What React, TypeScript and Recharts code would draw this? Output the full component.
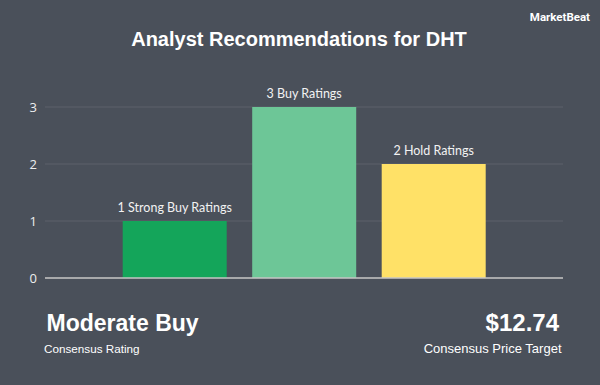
import React from "react";
import {
  BarChart,
  Bar,
  XAxis,
  YAxis,
  CartesianGrid,
  ReferenceLine,
  LabelList,
  Cell,
} from "recharts";

const categories = ["Strong Buy", "Buy", "Hold"];
const ratingCounts = [1, 3, 2];
const barColors = ["#14a55a", "#6dc697", "#ffe167"];
const yTicks = [0, 1, 2, 3];

const title = "Analyst Recommendations for DHT";
const consensusRating = "Moderate Buy";
const priceTarget = "$12.74";

const BG = "#4a505a";

const data = categories.map((name, i) => ({
  name,
  count: ratingCounts[i],
  label: `${ratingCounts[i]} ${name} Ratings`,
}));

// single-line label above each bar (default LabelList wraps to bar width)
const BarTopLabel = (props: any) => {
  const { x, y, width, value } = props;
  return (
    <text
      x={Number(x) + Number(width) / 2}
      y={Number(y) - 9}
      textAnchor="middle"
      fill="#f2f2f2"
      fontSize={12.5}
      fontFamily="Lato"
    >
      {value}
    </text>
  );
};

export default function App() {
  return (
    <div
      style={{
        position: "absolute",
        left: 0,
        top: 0,
        width: 600,
        height: 385,
        background: BG,
        overflow: "hidden",
      }}
    >
      <BarChart
        width={600}
        height={300}
        data={data}
        margin={{ top: 107, right: 37, left: 0, bottom: 22 }}
        barCategoryGap="10%"
      >
        <CartesianGrid vertical={false} stroke="#5c616b" strokeWidth={1} />
        <XAxis
          dataKey="name"
          hide
          padding={{ left: 64.75, right: 64.75 }}
        />
        <YAxis
          width={45}
          domain={[0, 3]}
          ticks={yTicks}
          axisLine={false}
          tickLine={false}
          tick={{ fill: "#eeeeee", fontSize: 13, fontFamily: "Open Sans" }}
        />
        <ReferenceLine y={0} stroke="#c4c4c4" strokeWidth={1.5} />
        <Bar dataKey="count" isAnimationActive={false}>
          {data.map((d, i) => (
            <Cell key={d.name} fill={barColors[i]} />
          ))}
          <LabelList dataKey="label" content={BarTopLabel} />
        </Bar>
      </BarChart>

      <svg
        width={600}
        height={385}
        style={{ position: "absolute", left: 0, top: 0, pointerEvents: "none" }}
      >
        <text
          x={590}
          y={21}
          textAnchor="end"
          fill="#ffffff"
          fontSize={11.5}
          fontWeight="bold"
          fontFamily="Roboto"
        >
          MarketBeat
        </text>
        <text
          x={299}
          y={46}
          textAnchor="middle"
          fill="#ffffff"
          fontSize={20}
          fontWeight="bold"
          fontFamily="Liberation Sans"
        >
          {title}
        </text>
        <text
          x={46.5}
          y={331}
          fill="#ffffff"
          fontSize={23}
          fontWeight="bold"
          fontFamily="Liberation Sans"
        >
          {consensusRating}
        </text>
        <text
          x={44}
          y={353}
          fill="#ffffff"
          fontSize={11.7}
          fontFamily="Liberation Sans"
        >
          Consensus Rating
        </text>
        <text
          x={559}
          y={331}
          textAnchor="end"
          fill="#ffffff"
          fontSize={24}
          fontWeight="bold"
          fontFamily="Liberation Sans"
        >
          {priceTarget}
        </text>
        <text
          x={561.5}
          y={352.5}
          textAnchor="end"
          fill="#ffffff"
          fontSize={13}
          fontFamily="Liberation Sans"
        >
          Consensus Price Target
        </text>
      </svg>
    </div>
  );
}
